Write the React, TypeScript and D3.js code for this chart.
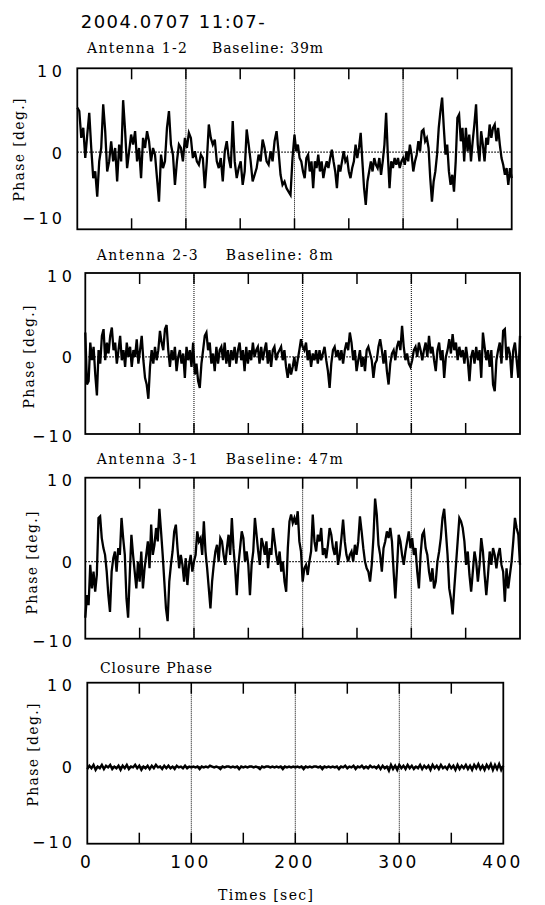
import React from 'react';
import * as d3 from 'd3';

const mainTitle = '2004.0707 11:07-';
const timeTicks = [0, 100, 200, 300, 400];
const minorTicks = [50, 150, 250, 350];
const gridTicks = [100, 200, 300];
const phaseTicks = [10, 0, -10];
const phaseLabels = ['10', '0', '\u221210'];

const pairNames = ['Antenna 1-2', 'Antenna 2-3', 'Antenna 3-1', 'Closure Phase'];
const baselineNames = ['Baseline: 39m', 'Baseline: 8m', 'Baseline: 47m', ''];

// phase [deg.]; first list spans 0-200 s, second 200-400 s
const ant12First = [
  5.3, 4.9, 1.7, 2.9, -0.7, 2.1, 4.7, 0.5, -3.1, -2.3,
  -5.3, -1.1, 0.5, 5.7, 2.5, -2.3, -1.1, 1.3, -1.1, 0.5,
  -3.5, 0.9, -1.1, 6.2, 2.5, -1.9, 0.1, 2.1, 0.9, 2.5,
  -1.1, 0.5, -3.1, 1.7, 0.5, 2.5, 1.3, -1.1, 0.5, -0.3,
  -3.1, -5.9, -0.3, -1.9, -1.1, 2.9, 4.9, 0.9, -0.3, -3.9,
  -1.1, 0.9, 0.5, -1.1, 1.7, 0.5, 2.3, 1.7, -0.7, 0.1,
  -1.1, -1.5, -0.3, -0.7, -4.3, -1.1, 3.3, 1.7, 0.9, 1.5,
  -1.1, -1.9, -0.7, -3.5, 0.1, 1.3, -0.7, -1.9, 3.7, -1.1,
  -3.1, -1.9, -1.1, -3.9, -2.3, 2.7, 0.9, -1.1, -3.5, -2.7,
  -1.9, -0.3, -1.1, 1.5, 0.5, -1.1, -1.5, 0.1, -1.1, 1.3,
  2.5, 0.1, -2.7, -3.9, -3.5, -4.3, -4.7, -5.1, -0.7,
];
const ant12Second = [
  2.1, 0.1, 0.9, -0.7, -1.1, -2.3, -3.1, -0.7, -0.3, -2.3,
  -1.1, -4.3, -1.1, -1.9, -0.3, -2.3, -1.1, -3.1, -1.9, -1.1,
  -1.9, -0.7, 0.3, -1.1, -2.3, -4.3, -1.5, -2.3, -1.1, 0.1,
  -1.1, -0.7, -2.3, -3.1, -1.9, -1.1, 0.9, -0.7, 0.5, 2.3,
  -1.1, -4.3, -6.3, -3.5, -2.3, -1.1, -2.3, -0.7, -1.5, -1.9,
  -0.7, -2.7, -1.1, 0.9, 4.7, -0.3, -4.3, -1.1, -1.9, -0.7,
  -1.5, -0.7, -1.9, -1.1, -0.7, -1.5, 0.1, -1.1, 0.9, -0.3,
  -2.3, -1.1, -0.3, 1.3, 0.1, 2.5, 2.7, 1.3, 1.7, 0.5,
  -3.1, -5.9, -3.5, -2.3, -0.3, 2.9, 4.9, 6.5, 2.9, -0.3,
  0.9, -2.3, -3.9, -2.7, -4.7, -1.1, 4.1, 4.5, 1.3, 2.9,
  -1.1, 2.9, 0.1, 2.1, -1.1, 1.3, 3.3, 5.7, 0.9, -1.1,
  2.5, 0.9, -1.1, 1.7, 0.9, 3.3, 1.7, 2.9, 3.3, 1.3,
  2.9, 0.9, -0.7, -1.5, -2.7, -1.9, -3.9, -1.9, -3.1,
];

const ant23First = [
  2.9, -3.3, -2.9, 1.7, -0.4, 1.2, -2.1, -4.6, 0.8, -0.8,
  2.5, 3.3, -0.4, 1.7, 0.4, 2.5, 3.5, 0.8, 1.7, -0.8,
  0.8, 2.5, -0.4, 0.8, -1.2, 1.7, 0, 1.2, -1.2, 0.8,
  0, 2.1, -0.8, 0.8, 2.5, -0.4, -2.5, -3.3, -5.0, -1.2,
  0.8, -0.8, 1.2, -0.4, 0.8, 3.1, 1.7, 0.8, 3.3, 3.8,
  0.8, -1.2, 0.8, -0.4, 1.2, -1.7, 0, 0.8, -0.8, 0.4,
  -2.5, 1.2, -0.4, 0.8, -1.2, 1.7, -2.1, -0.8, -2.9, -3.7,
  -0.8, 0.8, 2.5, 2.9, 0.8, 1.7, -0.8, 0.4, -1.7, 1.2,
  -0.8, 0.8, 1.2, -0.4, 1.7, -0.8, 0.8, -1.2, 0.8, -0.4,
  1.2, -0.8, 0.8, 1.7, -0.4, 0.8, -1.7, 1.2, -0.8, 0.8,
  -0.4, 1.7, 0, 0.8, 1.2, -0.8, 1.2, -0.4, 0.8, 1.7,
  -0.8, 0.8, -1.2, 0.8, 1.2, -0.4, 0.4, 0.8, 1.2, -0.4,
  0.8, -1.2, -2.5, -0.8, -2.1, -1.2, 0, -1.7, -0.4, 0.8,
  2.1,
];
const ant23Second = [
  1.2, 0.8, 1.7, -0.4, 0.8, -1.2, 0.4, -0.4, 0.8, -0.8,
  0.8, -0.4, 0.4, 1.2, -0.4, -1.7, -3.7, -0.8, 0.8, 1.2,
  0, 0.8, -0.4, 0.8, -0.8, 0.8, 1.7, 0.8, 2.9, 1.7,
  -0.4, 0.8, -1.7, -0.4, 0.8, -1.2, 0, -1.7, 0.8, 1.2,
  0.4, -0.4, -2.5, -0.8, -0.4, 1.2, 2.1, 0.8, -0.8, 0.8,
  -1.7, -3.3, -0.8, 0.4, 0.8, -0.4, 1.2, 1.9, 0.8, 3.7,
  1.2, -0.4, 0.4, -0.8, -1.2, -0.4, 0.8, 1.2, 0, 1.7,
  0.8, -0.4, 0.8, 1.7, 0, 2.5, 0.4, 1.2, -0.4, -1.7,
  0.8, 1.7, -0.4, 0.8, -2.5, 0, 0.8, 2.1, 0.4, 2.7,
  0.8, 1.7, -0.4, 1.2, 0, 0.8, -0.8, 1.2, -0.4, -2.9,
  0, 0.8, -0.8, 1.2, -0.4, 0.8, -2.5, 2.9, 1.2, -0.4,
  0.8, -1.2, 0.8, -3.3, -4.1, -0.4, 0.8, 1.7, -0.8, 3.1,
  3.3, -0.4, 1.2, 0.4, -2.5, 0.8, 1.7, -0.4, -2.5, 2.5,
];

const ant31First = [
  -6.7, -4.0, -5.2, -0.4, -3.2, -1.2, -3.6, -1.6, 5.2, 5.4,
  2.8, 1.6, 0.8, -1.2, -4.0, -6.0, -1.2, 0.4, 1.2, -1.2,
  1.6, 0.8, 5.2, 2.8, 0.8, -4.4, -6.7, -1.6, 3.2, 0.8,
  -1.2, -3.2, 0, -2.4, 1.2, -3.2, -0.8, 0.8, 2.4, -0.8,
  4.4, 0.8, 2.0, 4.0, 2.4, 6.3, 3.6, 0.8, -2.4, -5.6,
  -7.1, -2.4, -0.4, 1.2, 3.6, 4.4, 1.6, -0.8, 0.8, -0.4,
  -2.4, 0.4, -2.8, -0.4, 0.8, -1.2, 0, 0.8, 3.6, 2.4,
  2.8, 0.8, 4.8, 1.2, -0.8, -3.2, -5.6, -2.4, -0.4, 1.2,
  2.0, 0, 2.8, 2.4, 0.8, -0.4, 1.6, 3.2, 0.8, 5.2,
  1.6, -0.8, -4.0, -0.4, 1.6, 3.6, 2.8, 0, 1.2, -0.4,
  -4.0, -0.4, 1.2, 5.2, 3.2, 1.2, -0.4, 2.8, 2.0, 0.8,
  2.4, -0.8, 1.6, 0.8, 4.0, 2.4, 0.8, -0.4, 1.2, -1.2,
  0, -2.4, -3.6, 1.6, 4.8, 5.6, 4.6, 5.2, 4.4, 6.0,
  2.4, 1.2,
];
const ant31Second = [
  -2.4, -0.8, -0.4, -1.6, 0, 1.2, 5.6, 2.4, 1.2, 3.2,
  2.4, 4.0, 0.8, 1.6, 0.4, 2.0, 4.0, 3.2, 1.6, 0.8,
  2.4, -0.4, 0.8, 2.8, 5.0, 2.4, 0.8, 0, 0.8, 1.2,
  0, 2.0, 0.8, 2.4, 5.4, 3.6, 1.6, 0, -0.8, -1.2,
  -2.4, -0.4, 2.8, 7.5, 5.6, 2.0, 0.8, -1.2, 1.6, 2.4,
  3.6, 2.8, 4.0, 2.4, -1.2, -4.4, -0.8, 3.2, 2.4, 0.8,
  -0.4, 1.2, 2.4, 3.6, 1.6, 2.8, 0.8, 1.6, -1.2, -3.2,
  0.8, 3.2, 3.6, 1.6, 0.8, -1.2, -2.4, -0.8, -3.2, -2.4,
  0, 1.2, 2.8, 5.2, 6.3, 3.6, 0.8, -3.2, -4.4, -6.3,
  -3.2, -0.4, 2.4, 5.2, 4.8, 4.0, 2.4, -0.4, 1.2, -1.6,
  -3.6, -1.2, 1.2, 0, -2.4, -0.4, 2.8, 1.2, -1.6, -4.0,
  -1.6, 1.2, -0.4, 1.6, 0.8, -0.8, 0.8, 1.6, -0.4, -1.2,
  -4.8, -0.8, -3.2, -1.6, 0, 2.4, 5.2, 4.0, 3.2, -0.4,
];

const closureFirst = [
  -0.3, 0.1, -0.2, 0.2, -0.4, 0.0, -0.2, 0.2, -0.3, 0.1,
  -0.1, 0.2, -0.3, 0.0, -0.2, 0.1, -0.4, 0.1, -0.2, 0.2,
  -0.3, 0.0, -0.1, 0.2, -0.2, 0.1, -0.4, 0.0, -0.2, 0.1,
  -0.3, 0.1, -0.2, 0.2, -0.1, 0.0, -0.3, 0.1, -0.2, 0.1,
  -0.2, 0.0, -0.3, 0.1, -0.1, 0.0, -0.2, 0.1, -0.2, 0.0,
  -0.1, 0.0, -0.1, 0.0, -0.3, 0.0, -0.1, 0.0, -0.1, 0.1,
  0.0, -0.1, 0.0, -0.1, -0.3, 0.0, -0.1, 0.0, 0.0, -0.1,
  0.0, -0.1, 0.0, -0.3, 0.0, -0.1, 0.0, -0.1, 0.0, 0.0,
  -0.1, 0.0, -0.1, -0.3, 0.0, -0.1, 0.0, 0.0, -0.1, 0.0,
  -0.1, 0.0, -0.1, 0.0, -0.3, 0.0, -0.1, 0.0, -0.1, 0.0,
];
const closureSecond = [
  -0.1, 0.0, -0.1, 0.0, -0.3, 0.0, -0.1, 0.0, -0.1, 0.0,
  0.0, -0.1, 0.0, -0.3, 0.0, -0.1, 0.0, -0.1, 0.0, -0.1,
  0.0, -0.3, 0.0, -0.1, 0.1, -0.2, 0.0, -0.1, 0.1, -0.3,
  0.0, -0.1, 0.1, -0.2, 0.0, -0.2, 0.1, -0.1, 0.0, -0.2,
  0.1, -0.3, 0.1, -0.2, 0.0,
  -0.5, 0.2, -0.3, 0.1, -0.4, 0.2, -0.2, 0.1, -0.3, 0.2,
  -0.2, 0.1, -0.3, 0.0, -0.2, 0.2, -0.3, 0.1, -0.2, 0.1,
  -0.4, 0.2, -0.2, 0.1, -0.3, 0.2, -0.2, 0.0, -0.3, 0.2,
  -0.2, 0.1, -0.4, 0.2, -0.3, 0.1, -0.2, 0.2, -0.3, 0.1,
  -0.4, 0.2, -0.2, 0.3, -0.3, 0.1, -0.4, 0.2, -0.2, 0.3,
  -0.4, 0.2, -0.3, 0.3, -0.4, 0.1,
];

const series = [
  [ant12First, ant12Second],
  [ant23First, ant23Second],
  [ant31First, ant31Second],
  [closureFirst, closureSecond],
];

// where each pasted panel sits on the page
const layout = [
  { left: 77.3, right: 511.7, top: 68.3, titleY: 53.3, nameX: 87, nameLen: 100, baseX: 212, baseLen: 111, tickX: 62, axisX: 19, axisY: 150, lowDy: -5.7 },
  { left: 85.3, right: 520, top: 273, titleY: 260, nameX: 96.7, nameLen: 101, baseX: 225.7, baseLen: 107, tickX: 72, axisX: 29, axisY: 357, lowDy: 8.3 },
  { left: 85.3, right: 520, top: 477.7, titleY: 464.3, nameX: 96.7, nameLen: 101, baseX: 225.7, baseLen: 117, tickX: 72, axisX: 32, axisY: 563, lowDy: 8 },
  { left: 87.3, right: 503.3, top: 682.7, titleY: 673, nameX: 100, nameLen: 112, baseX: 0, baseLen: 0, tickX: 72, axisX: 33, axisY: 755, lowDy: 4.3 },
];

const PANEL_H = 161;
const serif = 'DejaVu Serif, serif';
const sans = 'DejaVu Sans, sans-serif';

const Panel = ({ idx }: { idx: number }) => {
  const L = layout[idx];
  const [first, second] = series[idx];
  const bottom = L.top + PANEL_H;
  const x = d3.scaleLinear().domain([0, 400]).range([L.left, L.right]);
  const y = d3.scaleLinear().domain([-9.2, 10]).range([bottom, L.top]);

  const pts: [number, number][] = [
    ...first.map((v, i) => [(i * 200) / first.length, v] as [number, number]),
    ...second.map((v, i) => [200 + (i * 200) / (second.length - 1), v] as [number, number]),
  ];
  const line = d3.line<[number, number]>().x(d => x(d[0])).y(d => y(d[1]));

  const labelY = (v: number) => (v === 10 ? y(10) + 8.5 : v === 0 ? y(0) + 6.6 : bottom + L.lowDy);
  const labelLen = [25, 0, 40];

  return (
    <g>
      <text x={L.nameX} y={L.titleY} fontFamily={serif} fontSize={14} textLength={L.nameLen} lengthAdjust="spacing">
        {pairNames[idx]}
      </text>
      {baselineNames[idx] && (
        <text x={L.baseX} y={L.titleY} fontFamily={serif} fontSize={14} textLength={L.baseLen} lengthAdjust="spacing">
          {baselineNames[idx]}
        </text>
      )}

      {gridTicks.map(t => (
        <line key={'g' + t} x1={x(t)} x2={x(t)} y1={L.top} y2={bottom} stroke="#000" strokeWidth={1} strokeDasharray="1,1" />
      ))}
      <line x1={L.left} x2={L.right} y1={y(0)} y2={y(0)} stroke="#000" strokeWidth={1.2} strokeDasharray="1.5,1.5" />

      <path d={line(pts) || ''} fill="none" stroke="#000" strokeWidth={idx === 3 ? 2.4 : 2.3} />

      {[...minorTicks, ...gridTicks].map(t => (
        <g key={'t' + t}>
          <line x1={x(t)} x2={x(t)} y1={L.top} y2={L.top + 11} stroke="#000" strokeWidth={1.5} />
          <line x1={x(t)} x2={x(t)} y1={bottom} y2={bottom - 11} stroke="#000" strokeWidth={1.5} />
        </g>
      ))}
      <rect x={L.left} y={L.top} width={L.right - L.left} height={PANEL_H} fill="none" stroke="#000" strokeWidth={1.8} />

      {phaseTicks.map((v, i) => (
        <text
          key={'y' + v}
          x={L.tickX}
          y={labelY(v)}
          textAnchor="end"
          fontFamily={sans}
          fontSize={16}
          {...(labelLen[i] ? { textLength: labelLen[i], lengthAdjust: 'spacing' } : {})}
        >
          {phaseLabels[i]}
        </text>
      ))}

      <text
        transform={`translate(${L.axisX},${L.axisY}) rotate(-90)`}
        y={5}
        textAnchor="middle"
        fontFamily={serif}
        fontSize={14}
        textLength={103}
        lengthAdjust="spacing"
      >
        Phase [deg.]
      </text>

      {idx === 3 &&
        timeTicks.map(t => (
          <text
            key={'x' + t}
            x={x(t) - 2}
            y={868}
            textAnchor="middle"
            fontFamily={sans}
            fontSize={17}
            {...(t > 0 ? { textLength: 38, lengthAdjust: 'spacing' } : {})}
          >
            {t}
          </text>
        ))}
    </g>
  );
};

export default function App() {
  return (
    <svg width={545} height={905} style={{ position: 'absolute', left: 0, top: 0, background: '#fff' }}>
      <rect width={545} height={905} fill="#fff" />
      <text x={80.7} y={28.3} fontFamily={sans} fontSize={18} textLength={184} lengthAdjust="spacing">
        {mainTitle}
      </text>
      {series.map((_, i) => (
        <Panel key={i} idx={i} />
      ))}
      <text x={218} y={900} fontFamily={serif} fontSize={14} textLength={95} lengthAdjust="spacing">
        Times  [sec]
      </text>
    </svg>
  );
}
